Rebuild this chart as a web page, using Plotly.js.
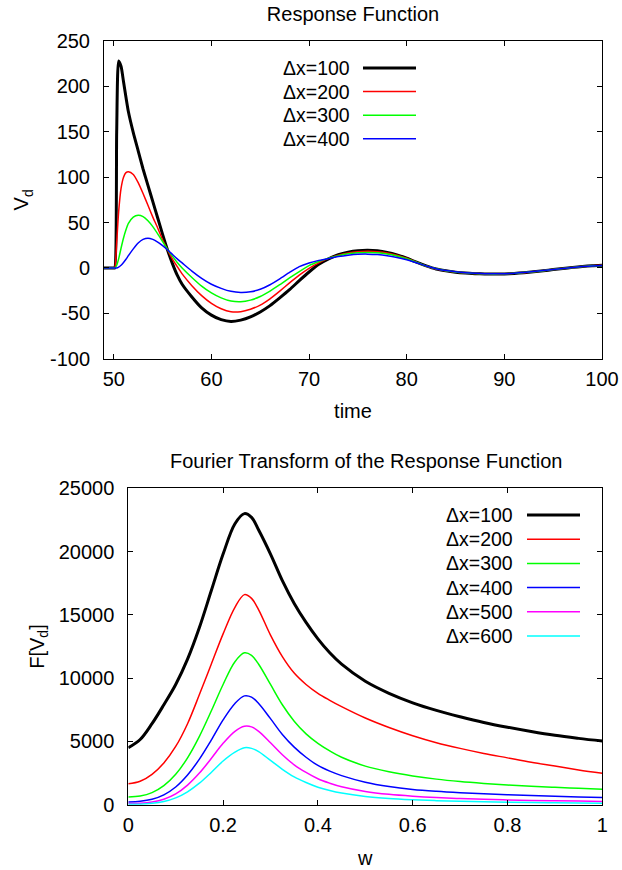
<!DOCTYPE html>
<html>
<head>
<meta charset="utf-8">
<script src="https://cdn.plot.ly/plotly-3.0.1.min.js"></script>
<style>
html,body{margin:0;padding:0;background:#fff;}
#chart{width:622px;height:870px;}
</style>
</head>
<body>
<div id="chart"></div>
<script>
// ---------- Response function (top) ----------
const time = [49, 50, 50.1, 50.3, 50.5, 50.75, 51, 51.25, 51.5, 52, 52.5, 53, 53.5, 54, 54.5, 55, 55.5, 56, 56.5,
  57, 58, 59, 60, 61, 62, 63, 64, 65, 66, 67, 68, 69, 70, 71, 72, 73, 74, 75, 76, 77, 78, 79, 80,
  81, 82, 83, 84, 85, 86, 87, 88, 89, 90, 91, 92, 93, 94, 95, 96, 97, 98, 99, 100];
const vd100 = [0, 0, 0, 150, 228, 222, 205, 188, 172, 149, 129, 109, 91, 73, 55, 37, 20, 5, -8,
  -18, -32, -44, -52, -57, -59, -57.5, -54, -48.5, -41.5, -33, -24, -14, -4.5, 4, 10, 14.5, 17.3, 18.9, 19.4, 18.8, 17.1, 14.4, 10.8,
  6.3, 2.2, -1.2, -3.2, -4.7, -5.7, -6.3, -6.7, -6.8, -6.6, -6.1, -5.3, -4.3, -3.1, -1.8, -0.6, 0.6, 1.6, 2.4, 3];
const vd200 = [0, 0, 0, 28, 62, 88, 100, 105, 106, 103, 94, 82, 69, 56, 44, 31, 20, 10, 1.5,
  -6.5, -19.5, -30.5, -39, -45, -48.3, -48.2, -45.5, -41, -34, -25.5, -16.5, -8, -0.5, 5.5, 10.5, 14, 16.4, 17.8, 18.3, 17.9, 16.5, 14, 10.6,
  6.3, 2.1, -1.1, -3.1, -4.6, -5.6, -6.2, -6.6, -6.7, -6.5, -6.0, -5.2, -4.2, -3.0, -1.8, -0.6, 0.6, 1.6, 2.3, 2.9];
const vd300 = [0, 0, 0, 3, 10, 22, 33, 42, 49, 56, 58, 56.5, 52, 45.5, 37.5, 29, 20.5, 13, 6,
  0, -10.5, -20, -27.5, -33, -36.5, -37.3, -35.5, -31.5, -25.5, -18.5, -11, -4, 2.5, 7, 10.8, 13.5, 15.5, 16.6, 17, 16.6, 15.4, 13.2, 10.1,
  6.2, 2.1, -1, -3, -4.4, -5.4, -6.1, -6.5, -6.6, -6.4, -5.9, -5.1, -4.1, -3, -1.8, -0.6, 0.6, 1.5, 2.3, 2.8];
const vd400 = [0, 0, 0, 0, 1, 3, 6, 9.5, 13.5, 21, 27.5, 31.5, 32.8, 31.5, 28.5, 24.5, 20, 15, 10,
  5.5, -3.5, -11.5, -18, -22.5, -25.8, -27, -26.3, -23.5, -18.5, -12, -5, 1.5, 5.5, 8.3, 10.5, 12.5, 14, 15, 15.2, 14.7, 13.5, 11.6, 9,
  5.8, 2.2, -0.8, -2.8, -4.2, -5.2, -5.9, -6.3, -6.4, -6.3, -5.8, -5, -4, -2.9, -1.7, -0.6, 0.6, 1.5, 2.2, 2.7];
const topNames = ['\u0394x=100', '\u0394x=200', '\u0394x=300', '\u0394x=400'];
const topXTicks = [50, 60, 70, 80, 90, 100];
const topYTicks = [-100, -50, 0, 50, 100, 150, 200, 250];
const topYLabels = ['-100', '-50', '0', '50', '100', '150', '200', '250'];

// ---------- Fourier transform (bottom) ----------
const w = [0, 0.025, 0.05, 0.075, 0.1, 0.125, 0.15, 0.175, 0.2, 0.225, 0.245, 0.26, 0.275, 0.3, 0.325, 0.35,
  0.375, 0.4, 0.425, 0.45, 0.5, 0.55, 0.6, 0.65, 0.7, 0.75, 0.8, 0.85, 0.9, 0.95, 1.0];
const f100 = [4500, 5150, 6400, 7900, 9500, 11500, 14000, 16900, 19800, 22200, 23000, 22700, 21700, 19800, 17700, 15900,
  14400, 13100, 12000, 11100, 9750, 8800, 8050, 7450, 6950, 6500, 6120, 5780, 5480, 5240, 5030];
const f200 = [1650, 1850, 2400, 3300, 4600, 6400, 8700, 11100, 13500, 15600, 16600, 16300, 15400, 13400, 11700, 10400,
  9500, 8800, 8250, 7750, 6850, 6100, 5450, 4900, 4450, 4050, 3700, 3350, 3050, 2750, 2480];
const f300 = [600, 680, 950, 1500, 2400, 3700, 5400, 7400, 9500, 11300, 12000, 11800, 11100, 9500, 7900, 6600,
  5600, 4850, 4250, 3750, 3050, 2600, 2270, 2020, 1830, 1680, 1550, 1450, 1370, 1300, 1230];
const f400 = [220, 270, 430, 780, 1400, 2350, 3600, 5100, 6700, 8000, 8600, 8500, 8000, 6800, 5550, 4550,
  3750, 3100, 2650, 2300, 1780, 1440, 1210, 1060, 950, 860, 785, 720, 665, 615, 570];
const f500 = [90, 115, 210, 430, 850, 1550, 2500, 3650, 4850, 5800, 6200, 6150, 5800, 4900, 3950, 3150,
  2550, 2050, 1700, 1420, 1050, 820, 670, 560, 485, 425, 380, 340, 310, 285, 260];
const f600 = [30, 45, 105, 250, 540, 1020, 1700, 2550, 3450, 4150, 4500, 4450, 4200, 3500, 2800, 2200,
  1750, 1380, 1120, 920, 650, 490, 390, 320, 265, 225, 195, 172, 153, 136, 122];
const botNames = ['\u0394x=100', '\u0394x=200', '\u0394x=300', '\u0394x=400', '\u0394x=500', '\u0394x=600'];
const botXTicks = [0, 0.2, 0.4, 0.6, 0.8, 1];
const botXLabels = ['0', '0.2', '0.4', '0.6', '0.8', '1'];
const botYTicks = [0, 5000, 10000, 15000, 20000, 25000];
const botYLabels = ['0', '5000', '10000', '15000', '20000', '25000'];

const colors = ['#000000', '#ff0000', '#00ff00', '#0000ff', '#ff00ff', '#00ffff'];
const widths = [3, 1.5, 1.5, 1.5, 1.5, 1.5];

const FONT = 'Liberation Sans, Arial, Helvetica, sans-serif';
const FS = 20;
const FL = 19.5;

const traces = [];
[vd100, vd200, vd300, vd400].forEach((ys, i) => {
  traces.push({x: time, y: ys, type: 'scatter', mode: 'lines', name: topNames[i],
    line: {color: colors[i], width: widths[i], shape: 'spline', smoothing: 0.6},
    xaxis: 'x', yaxis: 'y', showlegend: false, hoverinfo: 'skip'});
});
[f100, f200, f300, f400, f500, f600].forEach((ys, i) => {
  traces.push({x: w, y: ys, type: 'scatter', mode: 'lines', name: botNames[i],
    line: {color: colors[i], width: widths[i], shape: 'spline', smoothing: 1},
    xaxis: 'x2', yaxis: 'y2', showlegend: false, hoverinfo: 'skip'});
});

const W = 622, H = 870;
const axCommon = {
  showline: true, linecolor: '#000', linewidth: 1, mirror: 'ticks',
  ticks: 'inside', ticklen: 5, tickcolor: '#000', tickwidth: 1,
  showgrid: false, zeroline: false,
  tickfont: {family: FONT, size: FS, color: '#000'},
  automargin: false, tickmode: 'array'
};

// custom gnuplot-style keys (text left, sample right)
const annotations = [];
const shapes = [];
function addKey(names, textRight, lineL, lineR, yTop, step) {
  names.forEach((n, i) => {
    const yy = 1 - (yTop + i * step) / H;
    annotations.push({xref: 'paper', yref: 'paper', x: textRight / W, y: yy, xanchor: 'right', yanchor: 'middle',
      text: n, showarrow: false, font: {family: FONT, size: FL, color: '#000'}});
    shapes.push({type: 'line', xref: 'paper', yref: 'paper', x0: lineL / W, x1: lineR / W, y0: yy, y1: yy,
      line: {color: colors[i], width: widths[i]}});
  });
}
addKey(topNames, 352, 363, 416, 68, 23.6);
addKey(botNames, 515, 527, 580, 515, 24.2);

annotations.push({xref: 'paper', yref: 'paper', x: 366 / W, y: 1 - 460.5 / H, xanchor: 'center', yanchor: 'middle',
  text: 'Fourier Transform of the Response Function', showarrow: false, font: {family: FONT, size: FS, color: '#000'}});

const layout = {
  width: W, height: H,
  margin: {l: 0, r: 0, t: 0, b: 0},
  paper_bgcolor: '#fff', plot_bgcolor: '#fff',
  font: {family: FONT, size: FS, color: '#000'},
  showlegend: false,
  title: {text: 'Response Function', x: 353 / W, xanchor: 'center', y: 1 - 14 / H, yanchor: 'middle',
    font: {family: FONT, size: FS, color: '#000'}},
  xaxis: Object.assign({}, axCommon, {domain: [104 / W, 602 / W], range: [49, 100],
    tickvals: topXTicks, ticktext: topXTicks.map(String), ticklabelstandoff: 2,
    anchor: 'y', title: {text: 'time', font: {family: FONT, size: FS}, standoff: 15}}),
  yaxis: Object.assign({}, axCommon, {domain: [1 - 358.7 / H, 1 - 41 / H], range: [-100, 250],
    tickvals: topYTicks, ticktext: topYLabels, ticklabelstandoff: 9,
    anchor: 'x', title: {text: 'V<sub>d</sub>', font: {family: FONT, size: FS}, standoff: 15}}),
  xaxis2: Object.assign({}, axCommon, {domain: [128.3 / W, 602.3 / W], range: [0, 1],
    tickvals: botXTicks, ticktext: botXLabels, ticklabelstandoff: 2,
    anchor: 'y2', title: {text: 'w', font: {family: FONT, size: FS}, standoff: 16}}),
  yaxis2: Object.assign({}, axCommon, {domain: [1 - 804.7 / H, 1 - 488.3 / H], range: [0, 25000],
    tickvals: botYTicks, ticktext: botYLabels, ticklabelstandoff: 9,
    anchor: 'x2', title: {text: 'F[V<sub>d</sub>]', font: {family: FONT, size: FS}, standoff: 8}}),
  annotations: annotations,
  shapes: shapes
};

Plotly.newPlot('chart', traces, layout, {staticPlot: true, displayModeBar: false});
</script>
</body>
</html>
